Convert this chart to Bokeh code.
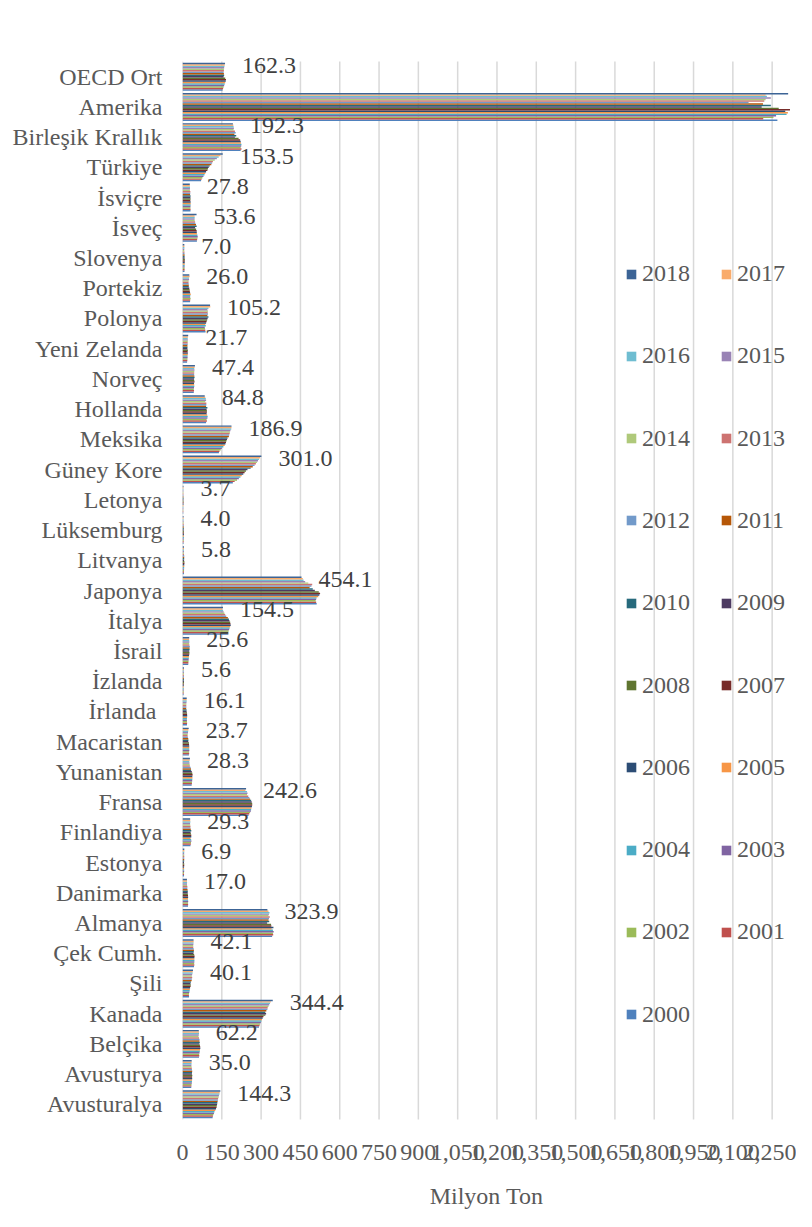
from bokeh.plotting import figure
from bokeh.models import (ColumnDataSource, FactorRange, Range1d, FixedTicker,
                          NumeralTickFormatter, Legend, LegendItem, LabelSet)
from bokeh.transform import dodge
from bokeh.core.properties import value
from bokeh.embed import file_html
from bokeh.resources import INLINE

# Categories, bottom to top as drawn
countries = ["Avusturalya", "Avusturya", "Belçika", "Kanada", "Şili", "Çek Cumh.",
             "Almanya", "Danimarka", "Estonya", "Finlandiya", "Fransa", "Yunanistan",
             "Macaristan", "İrlanda ", "İzlanda", "İsrail", "İtalya", "Japonya",
             "Litvanya", "Lüksemburg", "Letonya", "Güney Kore", "Meksika", "Hollanda",
             "Norveç", "Yeni Zelanda", "Polonya", "Portekiz", "Slovenya", "İsveç",
             "İsviçre", "Türkiye", "Birleşik Krallık", "Amerika", "OECD Ort"]

years = [str(y) for y in range(2000, 2019)]

# values per country, years 2000..2018 (Milyon Ton)
avusturalya = [115, 116, 118, 120, 122, 125, 128, 130, 131, 132, 133, 134, 135, 136, 138, 139, 141, 142, 144.3]
avusturya = [33.5, 34, 34.5, 35.5, 36, 36.5, 37, 36.5, 37.5, 36, 36.5, 37, 36, 35.5, 34.5, 34, 34.5, 34.8, 35.0]
belcika = [63, 64, 63.5, 65, 66, 67, 68, 67.5, 66.5, 64, 66, 64.5, 65, 63, 61, 62, 63, 62.5, 62.2]
kanada = [292, 294, 296, 299, 301, 303, 306, 309, 316, 319, 316, 320, 324, 325, 328, 331, 334, 337, 344.4]
sili = [25, 24.5, 25, 26, 27.5, 28, 29, 31, 31.5, 30.5, 32, 35, 35.5, 37, 35.5, 37, 38.5, 39, 40.1]
cek = [44, 45, 44.5, 45, 45.5, 45, 45.5, 46, 44.5, 42, 43, 43.5, 42.5, 41, 41, 41.5, 42, 42.5, 42.1]
almanya = [342, 346, 345, 348, 345, 340, 347, 339, 338, 323, 331, 328, 330, 333, 328, 330, 332, 328, 323.9]
danimarka = [21, 21.5, 21, 21.8, 21.2, 20.8, 21.5, 21, 20.5, 19.8, 20.2, 19.2, 18.4, 18.5, 17.6, 17.2, 17.5, 17.2, 17.0]
estonya = [5.8, 5.9, 5.9, 6.3, 6.2, 6.1, 6.0, 6.6, 6.4, 5.7, 6.3, 6.6, 6.5, 6.8, 6.6, 6.3, 6.6, 7.0, 6.9]
finlandiya = [30.5, 32, 32.5, 34, 33, 31, 33.5, 33.5, 32, 31, 33.5, 31.5, 30, 30.5, 29.5, 29, 30, 29.5, 29.3]
fransa = [252, 255, 258, 261, 262, 263, 265, 266, 266, 264, 262, 258, 255, 251, 246, 248, 246, 240, 242.6]
yunanistan = [35, 36, 36, 37, 37.5, 38, 37.5, 38.5, 37.5, 35.5, 33, 32.5, 31, 28, 27.5, 26.5, 26, 27.5, 28.3]
macaristan = [24.5, 25.5, 25, 26, 25.5, 25.8, 25.5, 25, 24.8, 22, 22.5, 22, 20.5, 19.5, 19.8, 21, 21.5, 22.5, 23.7]
irlanda = [17, 17.5, 17, 16.8, 17, 17.5, 17.8, 17.5, 17.2, 15.8, 15.5, 14.2, 14.6, 14.5, 14.6, 15.3, 16, 15.8, 16.1]
izlanda = [4.2, 4.3, 4.4, 4.4, 4.5, 4.5, 4.7, 5.0, 5.6, 5.5, 5.4, 5.3, 5.3, 5.3, 5.3, 5.4, 5.5, 5.5, 5.6]
israil = [22, 22.5, 23, 23.5, 24, 24.5, 25, 26, 26.5, 25.5, 27, 26.8, 28, 26, 25.5, 26, 25.8, 25.2, 25.6]
italya = [175, 174, 176, 178, 180, 182, 184, 183, 182, 179, 177, 173, 167, 163, 160, 157, 155, 152, 154.5]
japonya = [512, 510, 508, 510, 512, 518, 522, 525, 520, 505, 497, 485, 492, 495, 480, 468, 462, 459, 454.1]
litvanya = [5.5, 5.8, 5.9, 6.0, 6.3, 6.6, 6.8, 7.4, 7.1, 6.0, 6.4, 6.5, 6.5, 5.8, 5.6, 5.6, 5.7, 5.8, 5.8]
luksemburg = [3.8, 4.2, 4.5, 4.7, 5.4, 5.5, 5.4, 5.2, 5.1, 4.7, 4.9, 4.9, 4.7, 4.5, 4.3, 4.1, 3.9, 4.0, 4.0]
letonya = [2.9, 3.0, 3.0, 3.1, 3.2, 3.4, 3.6, 3.8, 3.8, 3.5, 3.9, 3.7, 3.6, 3.5, 3.5, 3.5, 3.5, 3.6, 3.7]
guney_kore = [192, 199, 208, 215, 221, 226, 232, 237, 242, 248, 260, 268, 275, 280, 284, 288, 292, 296, 301.0]
meksika = [139, 141, 146, 150, 156, 161, 164, 166, 168, 170, 172, 177, 178, 180, 181, 183, 186, 187, 186.9]
hollanda = [90, 93, 92, 95, 96, 94, 92, 93, 93, 92, 95, 90, 91, 91, 87, 90, 89, 87, 84.8]
norvec = [43, 44, 43, 44, 45, 44.5, 44, 46, 45, 44, 46, 45, 44.5, 44.5, 45, 45.5, 45, 46, 47.4]
yeni_zelanda = [17.5, 18.5, 18.7, 19.5, 19.3, 20.3, 20.4, 19.6, 20.5, 18.8, 19.0, 18.8, 19.8, 19.6, 19.9, 20.2, 20.0, 20.5, 21.7]
polonya = [88, 87, 86, 85, 89, 87, 90, 92, 94, 96, 99, 95, 97, 96, 97, 95, 99, 106, 105.2]
portekiz = [29, 29.5, 31, 29, 30, 31.5, 29, 28, 27, 26, 24, 24, 23.5, 23, 23, 25, 24.5, 27, 26.0]
slovenya = [7.6, 8.0, 8.1, 8.1, 8.3, 8.5, 8.6, 8.7, 9.0, 8.0, 8.0, 8.0, 7.7, 7.5, 6.8, 6.9, 7.2, 7.2, 7.0]
isvec = [55, 56, 57, 58, 57, 55, 54.5, 54, 52, 48, 54, 51.5, 49.5, 48, 46.5, 46, 46.5, 46, 53.6]
isvicre = [30.5, 30.8, 30.2, 30.6, 31, 31.3, 31, 29.9, 30.8, 30.2, 30.8, 29, 29.6, 30, 28.3, 28.4, 28.6, 28.1, 27.8]
turkiye = [71, 73, 76, 80, 84, 87, 90, 95, 97, 100, 104, 110, 113, 116, 123, 131, 138, 145, 153.5]
birlesik = [222, 225, 222, 224, 225, 223, 222, 220, 214, 200, 205, 198, 203, 200, 195, 196, 195, 194, 192.3]
amerika = [2270, 2216, 2255, 2265, 2305, 2310, 2300, 2318, 2275, 2210, 2245, 2215, 2160, 2220, 2225, 2245, 2230, 2225, 2311]
oecd = [153, 155, 157, 159, 161, 163, 165, 166, 163, 157, 159, 158, 157, 158, 158, 159, 160, 161, 162.3]

rows = [avusturalya, avusturya, belcika, kanada, sili, cek, almanya, danimarka, estonya,
        finlandiya, fransa, yunanistan, macaristan, irlanda, izlanda, israil, italya, japonya,
        litvanya, luksemburg, letonya, guney_kore, meksika, hollanda, norvec, yeni_zelanda,
        polonya, portekiz, slovenya, isvec, isvicre, turkiye, birlesik, amerika, oecd]

tick_values = list(range(0, 2251, 150))

colors = ["#4F81BD", "#C0504D", "#9BBB59", "#8064A2", "#4BACC6", "#F79646",
          "#2C4D75", "#772C2A", "#5F7530", "#4D3B62", "#276A7C", "#B65708",
          "#729ACA", "#CD7371", "#AFC97A", "#9983B5", "#6FBDD1", "#F9AB6B", "#3C6496"]

X_MAX = 2320
PAD = 0.3  # extra room (in category units) above/below so outside labels are not cut

data = {"country": countries}
for i, y in enumerate(years):
    data["y" + y] = [r[i] for r in rows]
source = ColumnDataSource(data)

# data labels for the last year (only those that fall inside the value axis)
lab_c = [c for c, r in zip(countries, rows) if r[-1] <= tick_values[-1]]
lab_v = [r[-1] for r in rows if r[-1] <= tick_values[-1]]
lab_source = ColumnDataSource(dict(country=lab_c, v=lab_v, label=["%.1f" % v for v in lab_v]))

grid_source = ColumnDataSource(dict(x=tick_values,
                                    c0=[countries[0]] * len(tick_values),
                                    c1=[countries[-1]] * len(tick_values)))

FONT = "Liberation Serif"
GRAY = "#595959"

p = figure(width=796, height=1211, output_backend="svg", toolbar_location=None,
           y_range=FactorRange(factors=countries, range_padding=PAD,
                               range_padding_units="absolute"),
           x_range=Range1d(0, X_MAX),
           min_border_left=182, min_border_right=6, min_border_top=52, min_border_bottom=83)
p.outline_line_color = None
p.background_fill_color = "white"
p.border_fill_color = "white"

# vertical gridlines spanning exactly the category area
p.segment(x0="x", x1="x", y0=dodge("c0", -0.5, range=p.y_range),
          y1=dodge("c1", 0.5, range=p.y_range), source=grid_source,
          line_color="#d9d9d9", line_width=1.5)

group = 0.926
n = len(years)
h = group / n
renderers = []
for i, y in enumerate(years):
    off = -group / 2 + (i + 0.5) * h
    r = p.hbar(y=dodge("country", off, range=p.y_range), left=0, right="y" + y,
               height=h, source=source, fill_color=colors[i], line_color=None)
    renderers.append(r)

top_off = -group / 2 + (n - 0.5) * h
labels = LabelSet(x="v", y=dodge("country", top_off, range=p.y_range), text="label",
                  source=lab_source, x_offset=17, y_offset=-2, text_align="left",
                  text_baseline="middle", text_font=value(FONT), text_font_size="24px",
                  text_color="#404040")
p.add_layout(labels)

# axes
p.xaxis.ticker = FixedTicker(ticks=tick_values)
p.xaxis.formatter = NumeralTickFormatter(format="0,0")
p.xaxis.axis_line_color = None
p.xaxis.major_tick_line_color = None
p.xaxis.minor_tick_line_color = None
p.xaxis.major_tick_out = 0
p.xaxis.major_label_standoff = 16
p.xaxis.major_label_text_font = FONT
p.xaxis.major_label_text_font_size = "24px"
p.xaxis.major_label_text_color = GRAY
p.xaxis.axis_label = "Milyon Ton"
p.xaxis.axis_label_text_font = FONT
p.xaxis.axis_label_text_font_size = "24px"
p.xaxis.axis_label_text_font_style = "normal"
p.xaxis.axis_label_text_color = GRAY
p.xaxis.axis_label_standoff = 20

p.yaxis.axis_line_color = None
p.yaxis.major_tick_line_color = None
p.yaxis.minor_tick_line_color = None
p.yaxis.major_tick_out = 0
p.yaxis.major_label_standoff = 20
p.yaxis.major_label_text_font = FONT
p.yaxis.major_label_text_font_size = "24px"
p.yaxis.major_label_text_color = GRAY

p.xgrid.grid_line_color = None
p.ygrid.grid_line_color = None

# legend: two columns, 2018 top-left, row-wise descending
item_h = 28
base_y = 846 + 9  # frame bottom moved down by the padding
for k, y in enumerate(reversed(years)):
    idx = years.index(y)
    row, col = divmod(k, 2)
    cx = 443 if col == 0 else 538
    cy = base_y - 82.3 * row - item_h / 2
    lg = Legend(items=[LegendItem(label=y, renderers=[renderers[idx]])],
                location=(cx, cy), orientation="vertical",
                glyph_width=12, glyph_height=12, label_standoff=5,
                label_text_font=FONT, label_text_font_size="24px",
                label_text_color=GRAY, padding=0, margin=0, spacing=0,
                border_line_color=None, background_fill_alpha=0)
    p.add_layout(lg)

open("out.html", "w").write(file_html(p, INLINE))
